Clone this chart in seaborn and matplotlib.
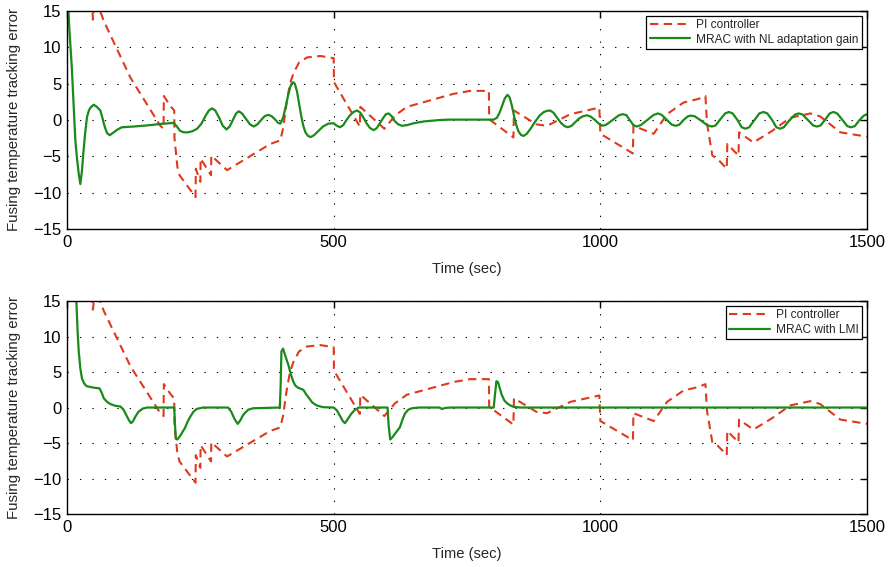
import matplotlib
matplotlib.use("Agg")
import matplotlib.pyplot as plt
import seaborn as sns
import pandas as pd

# PI controller tracking error (same run shown in both panels)
pi_time = [0, 47, 48.5, 51, 62, 69, 119, 169, 175, 181, 181.5, 194, 201, 201.5, 207, 211,
           241, 241.5, 250, 250.5, 270, 270.5, 300, 381, 400, 405, 412, 418, 425, 435, 450,
           475, 499, 500, 500.5, 549, 550, 595, 615, 637, 681, 725, 756, 791, 791.5, 837,
           838, 880, 900, 944, 998, 1000, 1061, 1062, 1100, 1125, 1156, 1184, 1197, 1200,
           1210, 1219, 1237, 1238, 1259, 1260, 1287, 1322, 1356, 1394, 1412, 1450, 1500]
pi_error = [29, 16.6, 13.8, 15.5, 15.0, 13.6, 5.8, -0.1, -0.8, -1.2, 3.3, 1.9, 1.3, -2.5, -6.5, -7.6,
            -10.6, -6.7, -8.5, -5.3, -7.6, -4.9, -6.9, -3.3, -2.8, -1.2, 2.5, 5.0, 6.5, 7.9, 8.6,
            8.8, 8.5, 8.5, 5.2, -0.9, 1.8, -1.2, 0.6, 1.8, 2.7, 3.6, 4.0, 4.0, 0.1, -2.4,
            1.3, -0.6, -0.8, 0.8, 1.7, -1.9, -4.6, -0.8, -1.9, 0.8, 2.4, 2.9, 3.3, -0.5,
            -4.9, -5.3, -6.7, -3.3, -4.9, -1.7, -3.1, -1.5, 0.3, 0.9, 0.5, -1.7, -2.3]

# MRAC with nonlinear adaptation gain
nl_time = [0, 4, 9, 12.5, 15.6, 19, 22, 25, 28, 31, 34, 37.5, 41, 44, 50, 56, 62.5, 66, 69, 72,
           75, 80, 87.5, 95, 103, 125, 150, 175, 200, 206, 212, 219, 226, 235, 244, 252, 260,
           266, 272, 278, 286, 292, 299, 305, 311, 317, 322, 328, 336, 343, 350, 357, 364,
           371, 378, 384, 391, 396, 400, 405, 410, 414, 418, 421, 424, 427, 431, 435, 439,
           443, 447, 452, 457, 463, 470, 480, 490, 500, 506, 512, 518, 524, 530, 537, 544,
           550, 556, 562, 568, 575, 581, 587, 593, 598, 603, 609, 615, 621, 628, 638, 650,
           669, 700, 719, 800, 806, 811, 816, 821, 826, 830, 834, 838, 842, 846, 851, 856,
           862, 870, 878, 886, 894, 900, 906, 912, 919, 926, 933, 939, 946, 953, 960, 967,
           975, 982, 990, 997, 1004, 1011, 1023, 1035, 1042, 1049, 1055, 1062, 1068, 1076,
           1088, 1100, 1108, 1115, 1125, 1134, 1141, 1148, 1156, 1164, 1170, 1177, 1189,
           1201, 1209, 1216, 1225, 1234, 1241, 1248, 1257, 1265, 1272, 1279, 1289, 1298,
           1306, 1313, 1322, 1330, 1337, 1344, 1355, 1365, 1372, 1379, 1389, 1399, 1406,
           1413, 1422, 1430, 1437, 1444, 1454, 1463, 1470, 1477, 1486, 1494, 1500]
nl_error = [19, 13, 7.2, 2.0, -2.8, -5.5, -7.4, -8.8, -7.0, -4.2, -1.8, 0.4, 1.3, 1.7, 2.1, 1.8,
            1.3, 0.4, -0.5, -1.2, -1.8, -2.1, -1.7, -1.3, -1.0, -0.9, -0.75, -0.55, -0.4, -0.9,
            -1.5, -1.7, -1.7, -1.55, -1.2, -0.5, 0.6, 1.3, 1.6, 1.3, 0.2, -0.8, -1.3, -0.9, 0.0,
            0.9, 1.2, 0.9, 0.1, -0.6, -0.9, -0.6, 0.0, 0.55, 0.7, 0.5, 0.0, -0.4, -0.5, 0.3,
            1.8, 3.2, 4.4, 5.0, 5.2, 5.0, 4.0, 2.3, 0.6, -0.8, -1.7, -2.2, -2.35, -2.1, -1.6,
            -0.9, -0.5, -0.45, -0.8, -1.0, -0.7, 0.0, 0.6, 1.1, 1.3, 1.0, 0.3, -0.5, -1.1,
            -1.4, -1.1, -0.4, 0.3, 0.8, 0.9, 0.5, -0.2, -0.6, -0.8, -0.7, -0.45, -0.2, 0.0,
            0.05, 0.05, 0.3, 1.0, 2.0, 3.0, 3.45, 3.1, 2.0, 0.6, -0.6, -1.5, -2.05, -2.2, -1.9,
            -1.1, -0.2, 0.6, 1.1, 1.25, 1.3, 1.0, 0.3, -0.4, -0.85, -1.0, -0.8, -0.3, 0.2, 0.5,
            0.65, 0.45, 0.0, -0.5, -0.8, -0.65, 0.0, 0.65, 0.8, 0.65, 0.0, -0.7, -0.9, -0.7,
            0.0, 0.7, 0.9, 0.7, 0.0, -0.65, -0.8, -0.65, 0.0, 0.5, 0.6, 0.5, -0.1, -0.75, -0.9,
            -0.75, 0.1, 0.9, 1.1, 0.9, 0.0, -1.0, -1.2, -1.0, 0.0, 0.9, 1.1, 0.9, 0.0, -1.0,
            -1.2, -1.0, 0.0, 0.75, 0.9, 0.75, 0.0, -0.75, -0.9, -0.75, 0.1, 0.9, 1.1, 0.9, 0.0,
            -0.85, -1.0, -0.85, 0.0, 0.6, 0.8]

# MRAC with LMI-based design
lmi_time = [0, 12, 17.5, 20, 22, 25, 28, 32, 37, 50, 61, 65, 69, 75, 81, 90, 100, 106, 112, 117,
            120, 124, 128, 134, 142, 150, 201, 202.5, 204, 207, 212, 216, 221, 226, 231, 237,
            243, 255, 302, 308, 314, 320, 325, 329, 333, 340, 349, 399, 400.5, 402, 405, 408,
            411, 415, 420, 424, 428, 433, 443, 448, 454, 460, 468, 480, 500, 506, 512, 517,
            521, 525, 530, 534, 540, 547, 601, 603, 606, 610, 616, 624, 629, 634, 640, 647,
            660, 698, 703, 710, 720, 800, 802, 805, 808, 815, 820, 825, 831, 837, 850, 1500]
lmi_error = [40, 20, 15, 10.5, 7.9, 5.5, 4.1, 3.4, 3.0, 2.8, 2.7, 2.1, 1.3, 0.8, 0.5, 0.25, 0.15,
             -0.3, -1.2, -1.9, -2.2, -1.9, -1.3, -0.6, -0.15, 0.0, 0.0, -2.5, -4.4, -4.5, -4.0,
             -3.5, -2.9, -2.0, -1.3, -0.6, -0.2, 0.0, 0.0, -0.6, -1.6, -2.3, -1.8, -1.2, -0.8,
             -0.3, -0.1, 0.0, 3.0, 7.9, 8.3, 7.6, 6.9, 6.0, 4.6, 3.7, 3.1, 2.8, 2.5, 1.9, 1.3,
             0.7, 0.3, 0.05, 0.0, -0.4, -1.2, -1.9, -2.2, -1.8, -1.2, -0.8, -0.3, 0.0, 0.0,
             -2.5, -4.5, -4.2, -3.6, -2.8, -1.7, -0.8, -0.3, -0.1, 0.0, 0.0, -0.2, -0.05, 0.0,
             0.0, 1.5, 3.7, 3.6, 1.8, 1.0, 0.6, 0.3, 0.1, 0.0, 0.0]

x_ticks = [0, 500, 1000, 1500]
y_ticks = [-15, -10, -5, 0, 5, 10, 15]

RED = "#df3a1e"
GREEN = "#1a8a1a"

sns.set_style("white")
plt.rcParams["font.family"] = ["Liberation Sans", "DejaVu Sans"]
plt.rcParams["axes.unicode_minus"] = True

fig = plt.figure(figsize=(8.9, 5.67), dpi=100)
ax_top = fig.add_axes([0.0753, 0.596, 0.8989, 0.3848])
ax_bot = fig.add_axes([0.0753, 0.0935, 0.8989, 0.3755])

panels = [
    (ax_top, nl_time, nl_error, "MRAC with NL adaptation gain"),
    (ax_bot, lmi_time, lmi_error, "MRAC with LMI"),
]

for ax, m_time, m_error, m_label in panels:
    pi_df = pd.DataFrame({"Time": pi_time, "Error": pi_error})
    m_df = pd.DataFrame({"Time": m_time, "Error": m_error})
    sns.lineplot(data=pi_df, x="Time", y="Error", ax=ax, color=RED, lw=1.5,
                 linestyle=(0, (4, 2.6)), estimator=None, sort=False,
                 label="PI controller")
    sns.lineplot(data=m_df, x="Time", y="Error", ax=ax, color=GREEN, lw=1.6,
                 estimator=None, sort=False, label=m_label)

    ax.set_xlim(0, 1500)
    ax.set_ylim(-15, 15)
    ax.set_xticks(x_ticks)
    ax.set_yticks(y_ticks)
    ax.set_xticklabels([str(v) for v in x_ticks])
    ax.set_yticklabels([str(v).replace("-", "\u2212") for v in y_ticks])
    ax.tick_params(direction="in", length=5, width=1, top=True, right=True,
                   labelsize=12, colors="black", pad=4)
    for sp in ax.spines.values():
        sp.set_color("black")
        sp.set_linewidth(1.0)
    ax.grid(True, color="black", linestyle=(0, (1.2, 10)), linewidth=0.8)
    ax.set_axisbelow(True)
    ax.set_xlabel("Time (sec)", fontsize=10.6, labelpad=9)
    ax.set_ylabel("Fusing temperature tracking error", fontsize=10.8, labelpad=9)
    leg = ax.legend(loc="upper right", fontsize=8.6, frameon=True, fancybox=False,
                    edgecolor="black", framealpha=1, handlelength=3.4,
                    borderaxespad=0.4, borderpad=0.3, labelspacing=0.2,
                    handletextpad=0.5)
    leg.get_frame().set_linewidth(0.9)

fig.savefig("out.png", dpi=100)
